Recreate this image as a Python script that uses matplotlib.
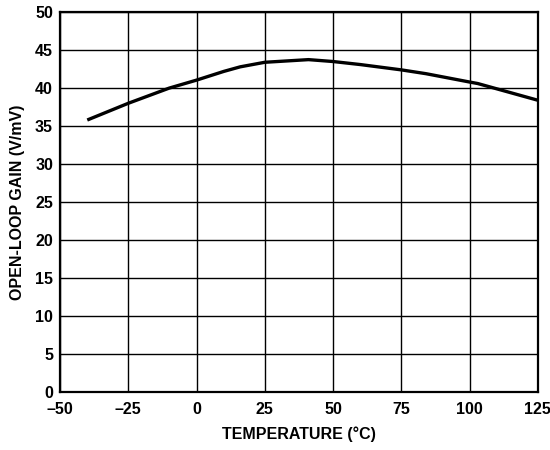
import matplotlib.pyplot as plt

# Open-loop gain vs temperature
temps = [-40, -25, -10, 0, 10, 16, 25, 41, 50, 60, 75, 84, 100, 103, 125]
gain = [35.8, 38.0, 40.0, 41.05, 42.2, 42.8, 43.4, 43.75, 43.5, 43.1, 42.4, 41.9, 40.8, 40.6, 38.4]

xticks = [-50, -25, 0, 25, 50, 75, 100, 125]
xtick_labels = ["\u201350", "\u201325", "0", "25", "50", "75", "100", "125"]
yticks = [0, 5, 10, 15, 20, 25, 30, 35, 40, 45, 50]

plt.rcParams['font.family'] = ['Liberation Sans', 'DejaVu Sans']

fig = plt.figure(figsize=(5.5, 4.5), dpi=100)
ax = fig.add_axes([0.109, 0.129, 0.869, 0.844])

ax.plot(temps, gain, color="black", linewidth=2.4, solid_capstyle="butt")

ax.set_xlim(-50, 125)
ax.set_ylim(0, 50)
ax.set_xticks(xticks)
ax.set_xticklabels(xtick_labels)
ax.set_yticks(yticks)
ax.grid(True, color="black", linewidth=1.0)
ax.tick_params(length=0, labelsize=11.5)
ax.tick_params(axis="x", pad=7)
ax.tick_params(axis="y", pad=5)
for lbl in ax.get_xticklabels() + ax.get_yticklabels():
    lbl.set_fontweight("bold")
for sp in ax.spines.values():
    sp.set_linewidth(1.6)

ax.set_xlabel("TEMPERATURE (\u00b0C)", fontsize=11.5, fontweight="bold", labelpad=7)
ax.set_ylabel("OPEN-LOOP GAIN (V/mV)", fontsize=11.5, fontweight="bold", labelpad=7)

fig.savefig("out.png", dpi=100)
